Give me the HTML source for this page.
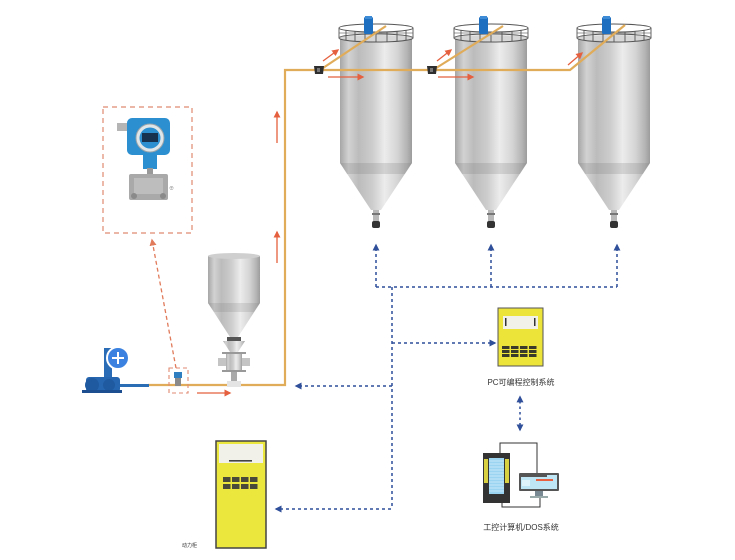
<!DOCTYPE html>
<html><head><meta charset="utf-8">
<style>
html,body{margin:0;padding:0;background:#fff;width:735px;height:560px;overflow:hidden;}
svg{display:block;}
text{font-family:"Liberation Sans","Noto Sans CJK SC",sans-serif;}
</style></head><body>
<svg width="735" height="560" viewBox="0 0 735 560" xmlns="http://www.w3.org/2000/svg">
<defs>
<linearGradient id="metal" x1="0" x2="1" y1="0" y2="0">
 <stop offset="0" stop-color="#a6a6a6"/>
 <stop offset="0.12" stop-color="#d2d2d2"/>
 <stop offset="0.26" stop-color="#bcbcbc"/>
 <stop offset="0.45" stop-color="#cdcdcd"/>
 <stop offset="0.62" stop-color="#ececec"/>
 <stop offset="0.8" stop-color="#d4d4d4"/>
 <stop offset="0.93" stop-color="#b4b4b4"/>
 <stop offset="1" stop-color="#9c9c9c"/>
</linearGradient>
<marker id="rh" viewBox="0 0 10 10" refX="8" refY="5" markerWidth="7" markerHeight="7" markerUnits="userSpaceOnUse" orient="auto"><path d="M0,0 L10,5 L0,10 z" fill="#e5603f"/></marker>
<marker id="bh" viewBox="0 0 10 10" refX="8" refY="5" markerWidth="7" markerHeight="7" markerUnits="userSpaceOnUse" orient="auto"><path d="M0,0 L10,5 L0,10 z" fill="#2f4f9a"/></marker>
<marker id="bhs" viewBox="0 0 10 10" refX="2" refY="5" markerWidth="7" markerHeight="7" markerUnits="userSpaceOnUse" orient="auto-start-reverse"><path d="M0,0 L10,5 L0,10 z" fill="#2f4f9a"/></marker>
<marker id="rhd" viewBox="0 0 10 10" refX="8" refY="5" markerWidth="7" markerHeight="7" markerUnits="userSpaceOnUse" orient="auto"><path d="M0,0 L10,5 L0,10 z" fill="#e07a5a"/></marker>
<g id="silo">
 <rect x="-36" y="37" width="72" height="126" fill="url(#metal)"/>
 <ellipse cx="0" cy="38" rx="36" ry="3" fill="#d6d6d6"/>
 <path d="M-36,163 L36,163 L5,210 L-5,210 Z" fill="url(#metal)"/>
 <path d="M-36,163 L36,163 L29,174 L-29,174 Z" fill="#777" opacity="0.22"/>
 <rect x="-3" y="210" width="6" height="11" fill="#b8b8b8"/>
 <rect x="-4" y="213" width="8" height="2" fill="#777"/>
 <rect x="-4" y="221" width="8" height="7" rx="2" fill="#333"/>
 <ellipse cx="0" cy="28" rx="37" ry="4" fill="none" stroke="#555" stroke-width="1"/>
 <ellipse cx="0" cy="38" rx="37" ry="4" fill="none" stroke="#555" stroke-width="1"/>
 <g stroke="#555" stroke-width="0.9">
  <line x1="-37" y1="28" x2="-37" y2="38"/>
  <line x1="37" y1="28" x2="37" y2="38"/>
  <line x1="-30" y1="30" x2="-30" y2="40.5"/>
  <line x1="-21" y1="31" x2="-21" y2="41.5"/>
  <line x1="-11" y1="31.5" x2="-11" y2="42"/>
  <line x1="0" y1="32" x2="0" y2="42"/>
  <line x1="11" y1="31.5" x2="11" y2="42"/>
  <line x1="21" y1="31" x2="21" y2="41.5"/>
  <line x1="30" y1="30" x2="30" y2="40.5"/>
  <line x1="-37" y1="33" x2="37" y2="33" opacity="0.6"/>
 </g>
 <rect x="-12" y="17" width="9" height="17" rx="1.5" fill="#1f6fc0"/>
 <rect x="-11" y="16" width="7" height="3" fill="#3d8ad6"/>
</g>
</defs>

<!-- silos -->
<use href="#silo" x="376" y="0"/>
<use href="#silo" x="491" y="0"/>
<use href="#silo" x="614" y="0"/>

<!-- golden pipe -->
<g fill="none" stroke="#e0ac5a" stroke-width="2.2">
 <path d="M148,385 H285 V70 H570 L625,25"/>
 <path d="M320,70 L386,26"/>
 <path d="M433,70 L503,26"/>
</g>
<!-- valve boxes -->
<path d="M314,66 H324 L323,74 H315 Z" fill="#2e2e2e"/>
<rect x="317" y="68" width="3" height="4" fill="#777"/>
<path d="M427,66 H437 L436,74 H428 Z" fill="#2e2e2e"/>
<rect x="430" y="68" width="3" height="4" fill="#777"/>

<!-- red flow arrows -->
<g stroke="#e5603f" stroke-width="1.3" fill="none">
 <line x1="277" y1="143" x2="277" y2="112" marker-end="url(#rh)"/>
 <line x1="277" y1="263" x2="277" y2="232" marker-end="url(#rh)"/>
 <line x1="328" y1="77" x2="363" y2="77" marker-end="url(#rh)"/>
 <line x1="323" y1="61" x2="338" y2="50" marker-end="url(#rh)"/>
 <line x1="438" y1="77" x2="473" y2="77" marker-end="url(#rh)"/>
 <line x1="437" y1="61" x2="451" y2="50" marker-end="url(#rh)"/>
 <line x1="568" y1="65" x2="582" y2="53" marker-end="url(#rh)"/>
 <line x1="197" y1="393" x2="230" y2="393" marker-end="url(#rh)"/>
</g>

<!-- hopper -->
<rect x="208" y="256" width="52" height="47" fill="url(#metal)"/>
<ellipse cx="234" cy="256" rx="26" ry="3" fill="#cfcfcf"/>
<path d="M208,303 L260,303 L238,337 L230,337 Z" fill="url(#metal)"/>
<path d="M208,303 L260,303 L254,312 L214,312 Z" fill="#777" opacity="0.2"/>
<rect x="227" y="337" width="14" height="4" fill="#555"/>
<path d="M223,341 L245,341 L238,352 L230,352 Z" fill="url(#metal)"/>
<rect x="222" y="352" width="24" height="2" fill="#999"/>
<rect x="226" y="354" width="16" height="17" fill="url(#metal)"/>
<rect x="218" y="358" width="8" height="8" fill="#c4c4c4"/>
<rect x="242" y="358" width="8" height="8" fill="#c4c4c4"/>
<rect x="222" y="370" width="24" height="2" fill="#999"/>
<rect x="231" y="372" width="6" height="10" fill="#aaa"/>
<rect x="227" y="381" width="14" height="6" fill="#e4e4e4"/>

<!-- pump -->
<rect x="120" y="384" width="29" height="3" fill="#2a6db5"/>
<rect x="104" y="348" width="8" height="31" fill="#2a6cb5"/>
<rect x="86" y="377" width="34" height="15" rx="3" fill="#2666b0"/>
<circle cx="92" cy="385" r="7" fill="#1f5aa0"/>
<circle cx="109" cy="385" r="6" fill="#1f5aa0"/>
<rect x="82" y="390" width="40" height="3" fill="#1d4f90"/>
<circle cx="118" cy="358" r="11" fill="#3b82e0" stroke="#fff" stroke-width="2"/>
<path d="M112,358 H124 M118,352 V364" stroke="#fff" stroke-width="2"/>

<!-- small transmitter on pipe -->
<rect x="174" y="372" width="8" height="6" fill="#2f7fc0"/>
<rect x="175" y="378" width="6" height="8" fill="#8a8a8a"/>
<rect x="169" y="368" width="19" height="25" fill="none" stroke="#e08a70" stroke-width="1.1" stroke-dasharray="4,3"/>

<!-- red dashed signal line up to transmitter box -->
<line x1="176" y1="368" x2="152" y2="240" stroke="#e07a5a" stroke-width="1.3" stroke-dasharray="4,3" marker-end="url(#rhd)"/>

<!-- transmitter box -->
<rect x="103" y="107" width="89" height="126" fill="none" stroke="#e08a70" stroke-width="1.2" stroke-dasharray="5,4"/>
<rect x="117" y="123" width="12" height="8" fill="#b5b5b5"/>
<rect x="127" y="118" width="43" height="37" rx="5" fill="#2b8fd0"/>
<circle cx="150" cy="138" r="14" fill="#dfe6ea" stroke="#9aa4aa" stroke-width="1"/>
<circle cx="150" cy="138" r="10.5" fill="#2b8fd0"/>
<rect x="142" y="133" width="16" height="9" fill="#17324f"/>
<rect x="143" y="155" width="14" height="14" fill="#2b8fd0"/>
<rect x="147" y="168" width="6" height="7" fill="#999"/>
<rect x="129" y="174" width="39" height="26" rx="2" fill="#a9a9a9"/>
<rect x="134" y="178" width="29" height="16" fill="#bdbdbd"/>
<circle cx="134" cy="196" r="3" fill="#8a8a8a"/>
<circle cx="163" cy="196" r="3" fill="#8a8a8a"/>
<text x="169" y="190" font-size="5" fill="#888">⊕</text>

<!-- blue dashed control lines -->
<g stroke="#2f4f9a" stroke-width="1.5" stroke-dasharray="3,3" fill="none">
 <line x1="376" y1="287" x2="617" y2="287"/>
 <line x1="376" y1="287" x2="376" y2="245" marker-end="url(#bh)"/>
 <line x1="491" y1="287" x2="491" y2="245" marker-end="url(#bh)"/>
 <line x1="617" y1="287" x2="617" y2="245" marker-end="url(#bh)"/>
 <line x1="392" y1="287" x2="392" y2="509"/>
 <line x1="392" y1="343" x2="495" y2="343" marker-end="url(#bh)"/>
 <line x1="392" y1="386" x2="296" y2="386" marker-end="url(#bh)"/>
 <line x1="391" y1="509" x2="276" y2="509" marker-end="url(#bh)"/>
 <line x1="520" y1="401" x2="520" y2="430" stroke-dasharray="2.5,3" marker-start="url(#bhs)" marker-end="url(#bh)"/>
</g>

<!-- PLC cabinet -->
<rect x="498" y="308" width="45" height="58" fill="#ede43a" stroke="#555" stroke-width="1"/>
<rect x="503" y="316" width="35" height="13" fill="#f1f1ea"/>
<rect x="505" y="318" width="1.5" height="8" fill="#333"/>
<rect x="534" y="318" width="1.5" height="8" fill="#333"/>
<g fill="#3a3a2a">
 <rect x="502" y="346" width="7.5" height="3"/><rect x="511" y="346" width="7.5" height="3"/><rect x="520" y="346" width="7.5" height="3"/><rect x="529" y="346" width="7.5" height="3"/>
 <rect x="502" y="350" width="7.5" height="3"/><rect x="511" y="350" width="7.5" height="3"/><rect x="520" y="350" width="7.5" height="3"/><rect x="529" y="350" width="7.5" height="3"/>
 <rect x="502" y="354" width="7.5" height="3"/><rect x="511" y="354" width="7.5" height="3"/><rect x="520" y="354" width="7.5" height="3"/><rect x="529" y="354" width="7.5" height="3"/>
</g>
<text x="521" y="385" font-size="8" fill="#333" text-anchor="middle">PC可编程控制系统</text>

<!-- power cabinet -->
<rect x="216" y="441" width="50" height="107" fill="#ece73c" stroke="#444" stroke-width="1.5"/>
<rect x="219" y="444" width="44" height="19" fill="#f1f1ea"/>
<rect x="229" y="460" width="23" height="1.6" fill="#444"/>
<g fill="#4a4a3a">
 <rect x="223" y="477" width="7.5" height="5"/><rect x="232" y="477" width="7.5" height="5"/><rect x="241" y="477" width="7.5" height="5"/><rect x="250" y="477" width="7.5" height="5"/>
 <rect x="223" y="484" width="7.5" height="5"/><rect x="232" y="484" width="7.5" height="5"/><rect x="241" y="484" width="7.5" height="5"/><rect x="250" y="484" width="7.5" height="5"/>
</g>
<text x="189.5" y="547" font-size="5" fill="#333" text-anchor="middle">动力柜</text>

<!-- computer -->
<path d="M500,453 V443 H537 V473" fill="none" stroke="#333" stroke-width="1"/>
<path d="M502,503 V507 H540 V497" fill="none" stroke="#333" stroke-width="1"/>
<rect x="483" y="453" width="27" height="50" fill="#333"/>
<rect x="484" y="459" width="4" height="24" fill="#d8d040"/>
<rect x="505" y="459" width="4" height="24" fill="#d8d040"/>
<rect x="489" y="458" width="15" height="36" fill="#9ad4f0"/>
<g stroke="#e8f6fc" stroke-width="0.6">
 <line x1="489" y1="461" x2="504" y2="461"/><line x1="489" y1="464" x2="504" y2="464"/><line x1="489" y1="467" x2="504" y2="467"/>
 <line x1="489" y1="470" x2="504" y2="470"/><line x1="489" y1="473" x2="504" y2="473"/><line x1="489" y1="476" x2="504" y2="476"/>
 <line x1="489" y1="479" x2="504" y2="479"/><line x1="489" y1="482" x2="504" y2="482"/><line x1="489" y1="485" x2="504" y2="485"/>
 <line x1="489" y1="488" x2="504" y2="488"/><line x1="489" y1="491" x2="504" y2="491"/>
</g>
<rect x="519" y="473" width="40" height="18" rx="1" fill="#555"/>
<rect x="521" y="475" width="36" height="14" fill="#bfe6f5"/>
<rect x="521" y="475" width="26" height="2" fill="#555"/>
<rect x="536" y="479" width="17" height="2" fill="#e86040"/>
<rect x="522" y="480" width="8" height="6" fill="#dff3fb"/>
<rect x="535" y="491" width="8" height="5" fill="#7a8a94"/>
<rect x="530" y="496" width="18" height="2" fill="#9aa"/>
<text x="521" y="530" font-size="8" fill="#333" text-anchor="middle">工控计算机/DOS系统</text>
</svg>
</body></html>
